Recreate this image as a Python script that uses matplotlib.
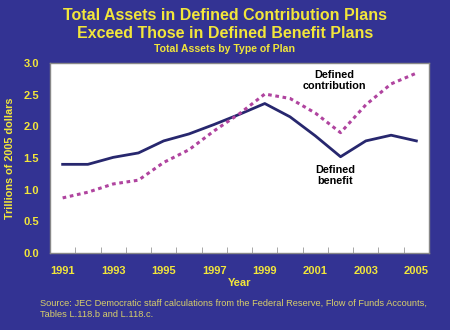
import matplotlib

matplotlib.use("Agg")
import matplotlib.pyplot as plt

years = list(range(1991, 2006))
defined_benefit = [1.40, 1.40, 1.51, 1.58, 1.77, 1.88, 2.03, 2.19, 2.36,
                   2.15, 1.85, 1.52, 1.77, 1.86, 1.77]
defined_contribution = [0.87, 0.96, 1.09, 1.15, 1.43, 1.63, 1.93, 2.20, 2.51,
                        2.44, 2.21, 1.90, 2.34, 2.67, 2.84]
year_labels = [1991, 1993, 1995, 1997, 1999, 2001, 2003, 2005]
y_ticks = [0.0, 0.5, 1.0, 1.5, 2.0, 2.5, 3.0]

BG = "#333393"
YELLOW = "#f2e63a"
NAVY = "#27276e"
MAGENTA = "#b0449f"

plt.rcParams["font.family"] = ["Liberation Sans", "DejaVu Sans"]

W, H = 450, 330
fig = plt.figure(figsize=(W / 100, H / 100), dpi=100, facecolor=BG)
# plot area in pixel coords: x 50..429, y 63..253
ax = fig.add_axes([50 / W, 1 - 253 / H, 379 / W, 190 / H])
ax.set_facecolor("white")

ax.plot(years, defined_benefit, color=NAVY, lw=2.0, solid_joinstyle="round")
ax.plot(years, defined_contribution, color=MAGENTA, lw=2.2,
        linestyle=(0, (1.2, 1.2)), dash_capstyle="butt")

ax.set_xlim(1990.5, 2005.5)
ax.set_ylim(0, 3.0)
ax.set_yticks(y_ticks)
ax.set_yticklabels([f"{v:.1f}" for v in y_ticks])
ax.set_xticks(year_labels)
ax.set_xticklabels([str(y) for y in year_labels])
ax.set_xticks([y + 0.5 for y in years[:-1]], minor=True)
ax.tick_params(axis="x", which="major", length=0, pad=9,
               labelsize=8, labelcolor=YELLOW)
ax.tick_params(axis="x", which="minor", length=4, direction="in",
               color="#999999")
ax.tick_params(axis="y", length=0, pad=8, labelsize=8, labelcolor=YELLOW)
for lbl in ax.get_xticklabels() + ax.get_yticklabels():
    lbl.set_fontweight("bold")
for s in ax.spines.values():
    s.set_color("#888888")
    s.set_linewidth(1.0)

ax.set_xlabel("Year", color=YELLOW, fontsize=8, fontweight="bold")
ax.xaxis.set_label_coords(0.5, -25 / 190)
ax.set_ylabel("Trillions of 2005 dollars", color=YELLOW, fontsize=7.8,
              fontweight="bold")
ax.yaxis.set_label_coords(-35 / 379, 0.5)

ax.text(2001.75, 2.72, "Defined\ncontribution", ha="center", va="center",
        fontsize=7.8, fontweight="bold", color="black", linespacing=1.1)
ax.text(2001.8, 1.22, "Defined\nbenefit", ha="center", va="center",
        fontsize=7.8, fontweight="bold", color="black", linespacing=1.1)

fig.text(0.5, 1 - 16 / H, "Total Assets in Defined Contribution Plans",
         ha="center", va="center", color=YELLOW, fontsize=11.5,
         fontweight="bold")
fig.text(0.5, 1 - 34 / H, "Exceed Those in Defined Benefit Plans",
         ha="center", va="center", color=YELLOW, fontsize=11.5,
         fontweight="bold")
fig.text(0.5, 1 - 49 / H, "Total Assets by Type of Plan",
         ha="center", va="center", color=YELLOW, fontsize=7.6,
         fontweight="bold")

fig.text(40 / W, 1 - 309 / H,
         "Source: JEC Democratic staff calculations from the Federal Reserve, "
         "Flow of Funds Accounts,\nTables L.118.b and L.118.c.",
         ha="left", va="center", color="#d8cf6a", fontsize=6.7,
         linespacing=1.3)

fig.savefig("out.png", dpi=100, facecolor=BG)
